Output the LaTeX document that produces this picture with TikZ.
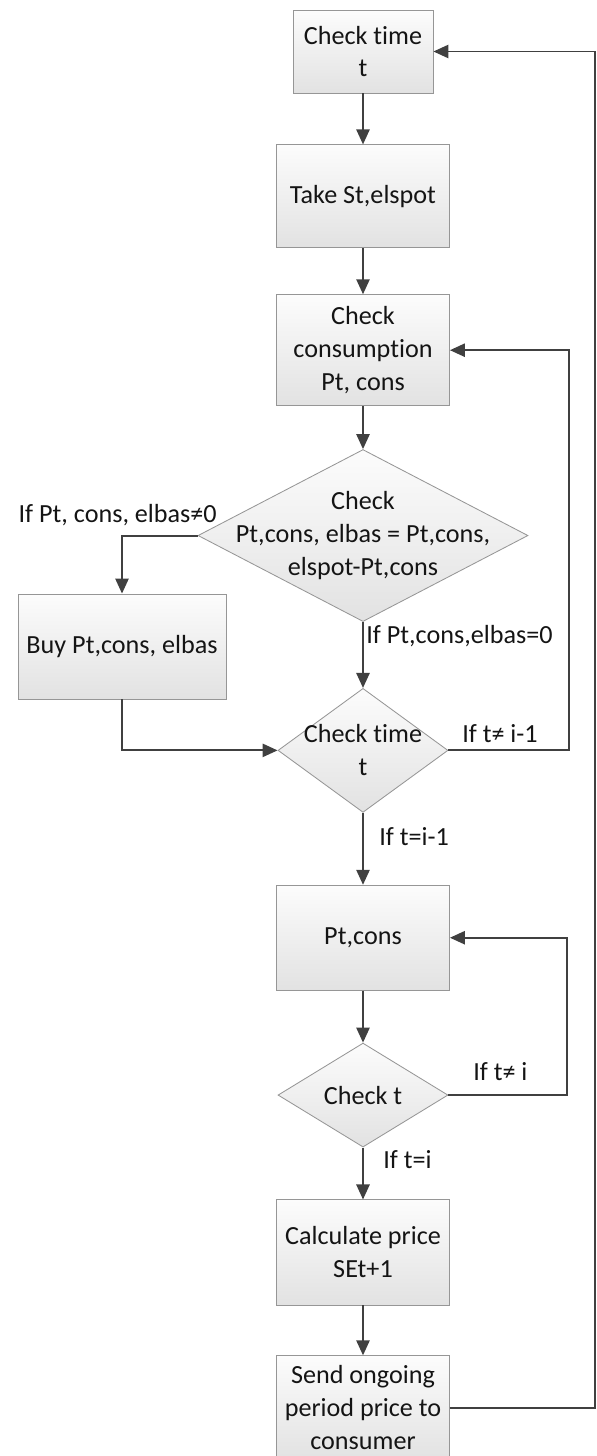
\documentclass[tikz,border=0pt]{standalone}
\usepackage{fontspec}
\setmainfont{Carlito}[Ligatures=NoCommon]
\usepackage{tikz}
\usetikzlibrary{arrows.meta,positioning,shapes.geometric,calc}
\definecolor{chartline}{RGB}{64,64,64}
\definecolor{chartedge}{RGB}{150,150,150}
\definecolor{charttop}{RGB}{252,252,252}
\definecolor{chartbottom}{RGB}{226,226,226}
\definecolor{charttext}{RGB}{20,20,20}
\tikzset{
  procbox/.style={draw=chartedge, line width=0.6pt, top color=charttop, bottom color=chartbottom,
    minimum width=4.325cm, minimum height=2.6cm, align=center, inner sep=0pt, text=charttext},
  decision/.style={diamond, draw=chartedge, line width=0.6pt, top color=charttop,
    bottom color=chartbottom, inner sep=0pt},
  dtext/.style={align=center, inner sep=0pt, text=charttext},
  flow/.style={-{Triangle[length=0.375cm, width=0.33cm]}, line width=1.4pt, draw=chartline},
  cond/.style={inner sep=0pt, text=charttext}
}

\begin{document}
\begin{tikzpicture}[font=\fontsize{18.6}{23.4}\selectfont]
  \useasboundingbox (0,0) rectangle (14.925,-36.4);
  \node[procbox, minimum width=3.5cm, minimum height=2.075cm] (chk) at (9.075,-1.2875) {Check time\\t};
  \node[procbox, minimum height=2.575cm, below=1.275cm of chk] (take) {Take St,elspot};
  \node[procbox, minimum height=2.775cm, below=1.15cm of take] (cons) {Check\\consumption\\Pt, cons};
  \node[decision, minimum width=8.25cm, minimum height=4.3cm, below=1.075cm of cons] (cmp) {};
  \node[dtext] (cmptxt) at (cmp) {Check\\Pt,cons, elbas = Pt,cons,\\elspot-Pt,cons};
  \node[procbox, minimum width=5.2cm, minimum height=2.625cm] (buy) at (3.05,-16.1625) {Buy Pt,cons, elbas};
  \node[decision, minimum width=4.25cm, minimum height=3.1cm, below=1.65cm of cmp] (time) {};
  \node[dtext] (timetxt) at (time) {Check time\\t};
  \node[procbox, minimum height=2.625cm, below=1.8cm of time] (ptc) {Pt,cons};
  \node[decision, minimum width=4.25cm, minimum height=2.6cm, below=1.3cm of ptc] (chkt) {};
  \node[dtext] (chkttxt) at (chkt) {Check t};
  \node[procbox, minimum height=2.625cm, below=1.3cm of chkt] (calc) {Calculate price\\SEt+1};
  \node[procbox, minimum height=2.6cm, below=1.25cm of calc] (send) {Send ongoing\\period price to\\consumer};

  % loop columns on the right
  \coordinate (loopin) at (14.225,0);
  \coordinate (loopt) at (14.175,0);
  \coordinate (loopout) at (14.875,0);

  \draw[flow] (chk) -- (take);
  \draw[flow] (take) -- (cons);
  \draw[flow] (cons) -- (cmp);
  \draw[flow] (cmp) -- (time);
  \draw[flow] (cmp.west) -| (buy.north);
  \draw[flow] (buy.south) |- (time.west);
  \draw[flow] (time.east) -- (time.east -| loopin) |- (cons.east);
  \draw[flow] (time) -- (ptc);
  \draw[flow] (ptc) -- (chkt);
  \draw[flow] (chkt.east) -- (chkt.east -| loopt) |- (ptc.east);
  \draw[flow] (chkt) -- (calc);
  \draw[flow] (calc) -- (send);
  \draw[flow] (send.east) -- (send.east -| loopout) |- (chk.east);

  % branch conditions
  \node[cond, anchor=base east] (nobuy) at (5.425,-13.05) {If Pt, cons, elbas≠0};
  \node[cond, anchor=base west] (nocheck) at (9.15,-16.075) {If Pt,cons,elbas=0};
  \node[cond, anchor=base west] (notlast) at (11.55,-18.55) {If t≠ i-1};
  \node[cond, anchor=base west] (islast) at (9.475,-21.125) {If t=i-1};
  \node[cond, anchor=base west] (noti) at (11.825,-27.0) {If t≠ i};
  \node[cond, anchor=base west] (isi) at (9.575,-29.2) {If t=i};
\end{tikzpicture}
\end{document}
